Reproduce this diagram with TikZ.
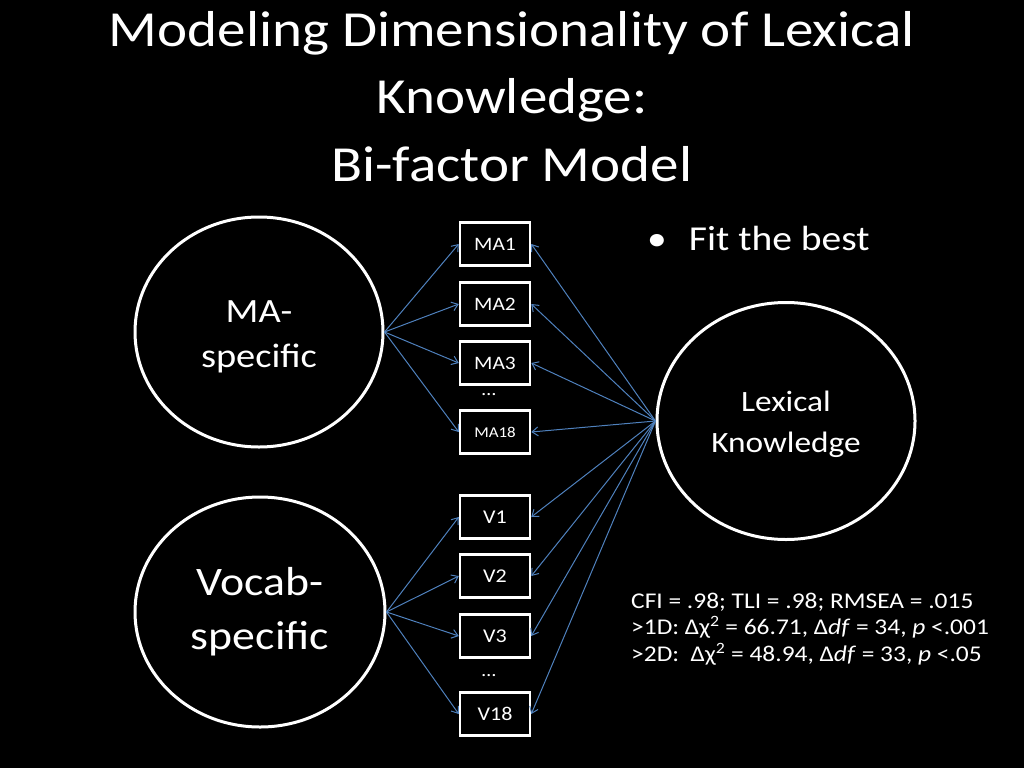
\documentclass[tikz,border=0pt]{standalone}
\usepackage{fontspec}
\setmainfont{Carlito}[FakeStretch=1.13]
\usetikzlibrary{shapes.geometric,arrows.meta}
\begin{document}
\begin{tikzpicture}[x=1pt,y=-1pt,
  latent/.style={ellipse,draw=white,line width=3pt,inner sep=0pt},
  obs/.style={rectangle,draw=white,line width=2.5pt,minimum width=70pt,minimum height=43pt,inner sep=0pt,text=white},
  load/.style={draw={rgb,255:red,79;green,129;blue,189},line width=1pt,-{Straight Barb[length=6pt,width=9pt]}},
  txt/.style={text=white,inner sep=0pt},
  ltxt/.style={text=white,inner sep=0pt,align=center}]
\fill[black] (0,0) rectangle (1024,768);
\useasboundingbox (0,0) rectangle (1024,768);
\node[txt,anchor=base,font=\fontsize{50.5}{60}\selectfont] (t1) at (512,46) {Modeling Dimensionality of Lexical};
\node[txt,anchor=base,font=\fontsize{50.5}{60}\selectfont] (t2) at (512,113.5) {Knowledge:};
\node[txt,anchor=base,font=\fontsize{50.5}{60}\selectfont] (t3) at (512,181) {Bi-factor Model};
\node[latent,minimum width=248pt,minimum height=230pt] (ma) at (259,332) {};
\node[latent,minimum width=250pt,minimum height=230pt] (voc) at (260,612) {};
\node[latent,minimum width=258pt,minimum height=237pt] (lex) at (786,421) {};
\node[ltxt,font=\fontsize{34}{45}\selectfont] (maT) at (259,337) {MA-\\specific};
\node[ltxt,font=\fontsize{40.5}{54}\selectfont] (vocT) at (260,612) {Vocab-\\specific};
\node[ltxt,font=\fontsize{29.5}{41}\selectfont] (lexT) at (786,424.5) {Lexical\\Knowledge};
\node[obs,font=\fontsize{19}{20}\selectfont] (ma1) at (495,244) {MA1};
\node[obs,font=\fontsize{19}{20}\selectfont] (ma2) at (495,304) {MA2};
\node[obs,font=\fontsize{19}{20}\selectfont] (ma3) at (495,363) {MA3};
\node[obs,font=\fontsize{15}{16}\selectfont] (ma18) at (495,432) {MA18};
\node[txt,font=\fontsize{18}{20}\selectfont] (dots1) at (489,395) {…};
\node[obs,font=\fontsize{19.5}{20}\selectfont] (v1) at (495,517) {V1};
\node[obs,font=\fontsize{19.5}{20}\selectfont] (v2) at (495,576) {V2};
\node[obs,font=\fontsize{19.5}{20}\selectfont] (v3) at (495,636) {V3};
\node[obs,font=\fontsize{19.5}{20}\selectfont] (v18) at (495,714) {V18};
\node[txt,font=\fontsize{18}{20}\selectfont] (dots2) at (489,676) {…};
\foreach \b in {ma1,ma2,ma3,ma18} \draw[load] (ma.east) -- (\b.west);
\foreach \b in {v1,v2,v3,v18} \draw[load] (voc.east) -- (\b.west);
\foreach \b in {ma1,ma2,ma3,ma18,v1,v2,v3,v18} \draw[load] (lex.west) -- (\b.east);
\node[txt,anchor=base west,font=\fontsize{35}{40}\selectfont] (fit) at (647,250) {•\hspace{22pt}Fit the best};
\node[txt,anchor=base west,font=\fontsize{22.5}{27}\selectfont] (s1) at (631,608) {CFI = .98; TLI = .98; RMSEA = .015};
\node[txt,anchor=base west,font=\fontsize{22.5}{27}\selectfont] (s2) at (631,634.5) {>1D: Δχ\textsuperscript{2} = 66.71, Δ\textit{df} = 34, \textit{p} <.001};
\node[txt,anchor=base west,font=\fontsize{22.5}{27}\selectfont] (s3) at (631,661) {>2D:\ \ Δχ\textsuperscript{2} = 48.94, Δ\textit{df} = 33, \textit{p} <.05};
\end{tikzpicture}
\end{document}
